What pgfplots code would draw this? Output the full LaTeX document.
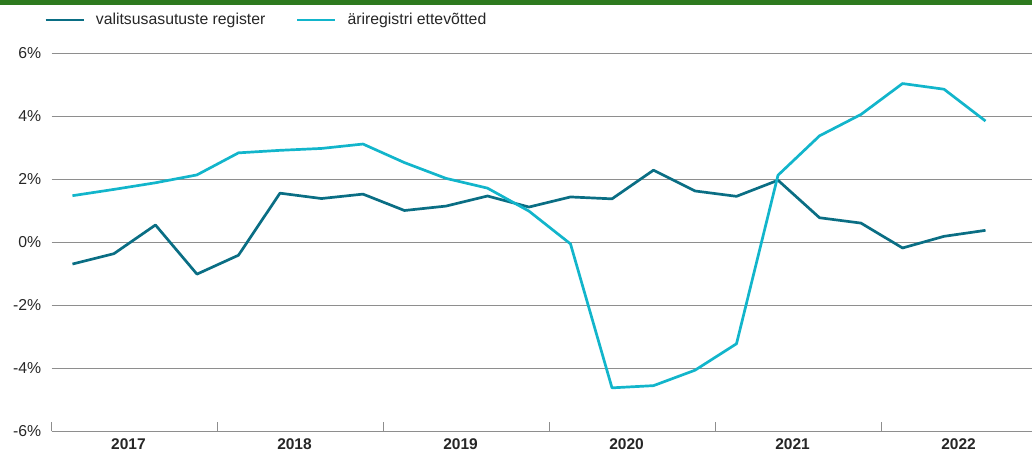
\documentclass[border=0pt]{standalone}
\usepackage{pgfplots}
\pgfplotsset{compat=1.18}
\usepackage{fontspec}
\setmainfont{Liberation Sans}
\definecolor{darkteal}{HTML}{0A6E84}
\definecolor{lightcyan}{HTML}{12B5CB}
\definecolor{topgreen}{HTML}{2E7A1F}
\definecolor{gridgray}{HTML}{8E8E8E}
\definecolor{txt}{HTML}{262626}
\begin{document}
\begin{tikzpicture}
\path[use as bounding box] (0,0) rectangle (1032pt,453pt);
\fill[topgreen] (0,448pt) rectangle (1032pt,453pt);
\begin{axis}[
  at={(51.7pt,22pt)}, anchor=south west,
  scale only axis, width=980.3pt, height=378pt,
  xmin=-0.5, xmax=23.12, ymin=-6, ymax=6,
  axis x line*=bottom, axis y line*=left,
  y axis line style={draw=none},
  x axis line style={draw=gridgray, line width=0.8pt},
  /pgf/number format/assume math mode=true,
  ytick={-6,-4,-2,0,2,4,6},
  yticklabels={-6\%,-4\%,-2\%,0\%,2\%,4\%,6\%},
  ymajorgrids, grid style={draw=gridgray, line width=0.8pt},
  major tick length=0pt,
  tick style={draw=gridgray, line width=0.8pt},
  xtick={1.35,5.35,9.35,13.35,17.35,21.35},
  xticklabels={2017,2018,2019,2020,2021,2022},
  extra x ticks={-0.5,3.5,7.5,11.5,15.5,19.5},
  extra x tick labels={},
  extra x tick style={major tick length=9pt, tick align=inside, grid=none},
  tick label style={font=\fontsize{15.8}{18}\selectfont, text=txt},
  xticklabel style={font=\fontsize{15.5}{18}\selectfont\bfseries, yshift=-4pt},
  yticklabel style={xshift=-7pt},
  legend columns=2,
  legend cell align=left,
  legend image code/.code={\draw[#1] (0pt,0pt) -- (38pt,0pt); \path (49pt,0pt);},
  legend style={draw=none, fill=none, at={(axis description cs:0,1)}, anchor=west,
    xshift=-7.7pt, yshift=33pt, inner sep=0pt,
    font=\fontsize{15.8}{18}\selectfont, text=txt,
    nodes={inner sep=0pt},
    /tikz/every even column/.append style={column sep=30.5pt}},
]
\addplot[darkteal, line width=2.7pt, line join=round, mark=none] coordinates {
(0,-0.70) (1,-0.37) (2,0.54) (3,-1.02) (4,-0.42) (5,1.55) (6,1.38) (7,1.52)
(8,1.00) (9,1.14) (10,1.46) (11,1.11) (12,1.43) (13,1.37) (14,2.28) (15,1.62)
(16,1.45) (17,1.96) (18,0.77) (19,0.60) (20,-0.19) (21,0.18) (22,0.37)};
\addlegendentry{valitsusasutuste register}
\addplot[lightcyan, line width=2.7pt, line join=round, mark=none] coordinates {
(0,1.47) (1,1.67) (2,1.88) (3,2.13) (4,2.83) (5,2.91) (6,2.97) (7,3.11)
(8,2.52) (9,2.02) (10,1.71) (11,0.98) (12,-0.06) (13,-4.63) (14,-4.56) (15,-4.07)
(16,-3.23) (17,2.12) (18,3.37) (19,4.05) (20,5.03) (21,4.85) (22,3.84)};
\addlegendentry{äriregistri ettevõtted}
\end{axis}
\end{tikzpicture}
\end{document}
